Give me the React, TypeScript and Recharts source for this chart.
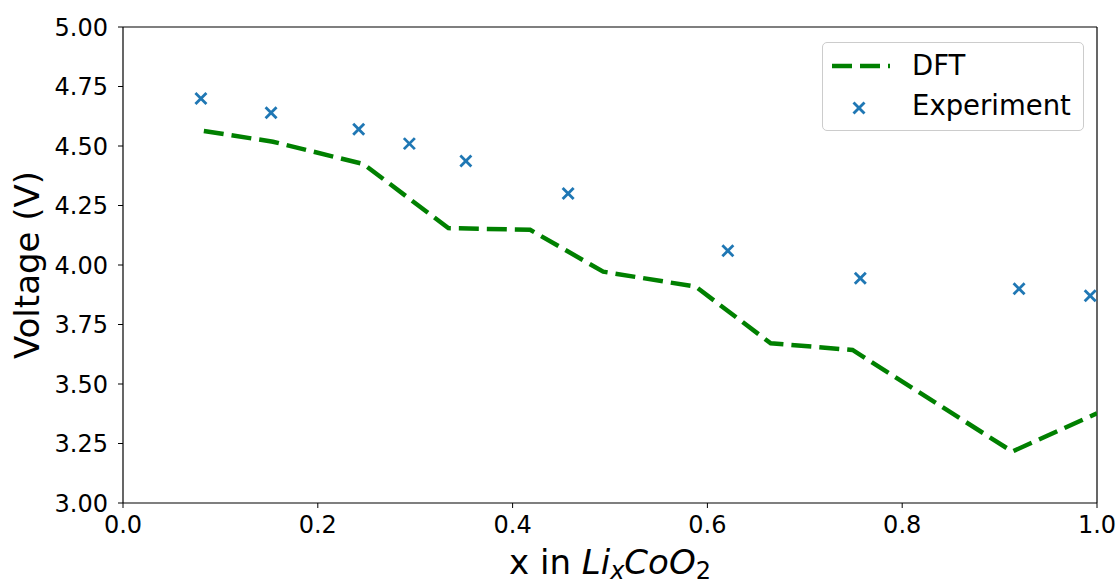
import React from "react"
import {
  ComposedChart,
  Line,
  Scatter,
  XAxis,
  YAxis,
  ReferenceLine,
  Legend,
} from "recharts"

// DFT computed voltage profile (x in LixCoO2, volts)
const dftX = [0.083, 0.154, 0.247, 0.334, 0.418, 0.493, 0.588, 0.665, 0.749, 0.913, 1.0]
const dftV = [4.563, 4.518, 4.424, 4.155, 4.148, 3.972, 3.909, 3.671, 3.643, 3.216, 3.377]

// measured points
const expX = [0.08, 0.152, 0.242, 0.294, 0.352, 0.457, 0.621, 0.757, 0.92, 0.993]
const expV = [4.70, 4.64, 4.57, 4.51, 4.437, 4.30, 4.06, 3.944, 3.90, 3.871]

const xTicks = [0, 0.2, 0.4, 0.6, 0.8, 1.0]
const yTicks = [3.0, 3.25, 3.5, 3.75, 4.0, 4.25, 4.5, 4.75, 5.0]

const dftData = dftX.map((x, i) => ({ x, v: dftV[i] }))
const expData = expX.map((x, i) => ({ x, v: expV[i] }))

const FONT = "DejaVu Sans, sans-serif"
const GREEN = "#008000"
const BLUE = "#1f77b4"

const Cross = (props: any) => {
  const { cx, cy } = props
  if (cx == null || cy == null) return null
  const r = 5.5
  return (
    <g stroke={BLUE} strokeWidth={2.8}>
      <line x1={cx - r} y1={cy - r} x2={cx + r} y2={cy + r} />
      <line x1={cx - r} y1={cy + r} x2={cx + r} y2={cy - r} />
    </g>
  )
}

const LegendBox = () => (
  <div
    style={{
      width: 260,
      height: 87,
      border: "1px solid #cccccc",
      borderRadius: 5,
      background: "rgba(255,255,255,0.8)",
      fontFamily: FONT,
      fontSize: 27.5,
      lineHeight: "normal",
      color: "#000",
      position: "relative",
    }}
  >
    <svg width={80} height={87} style={{ position: "absolute", left: 0, top: 0 }}>
      <line x1={9} y1={23} x2={67} y2={23} stroke={GREEN} strokeWidth={4.5} strokeDasharray="20 8" />
      <Cross cx={36} cy={65} />
    </svg>
    <div style={{ position: "absolute", left: 89, top: 6 }}>DFT</div>
    <div style={{ position: "absolute", left: 89, top: 46 }}>Experiment</div>
  </div>
)

const XLabel = (props: any) => {
  const vb = props.viewBox || {}
  const cx = vb.x + vb.width / 2
  return (
    <text x={cx} y={574} textAnchor="middle" fontFamily={FONT} fontSize={34} fill="#000">
      <tspan>x in </tspan>
      <tspan fontStyle="italic">Li</tspan>
      <tspan fontStyle="italic" fontSize={24} dy={5}>x</tspan>
      <tspan fontStyle="italic" dy={-5}>CoO</tspan>
      <tspan fontSize={24} dy={5}>2</tspan>
    </text>
  )
}

export default function App() {
  return (
    <div style={{ position: "absolute", left: 0, top: 0, width: 1120, height: 581, background: "#fff" }}>
      <ComposedChart
        width={1120}
        height={581}
        margin={{ top: 27, right: 23, left: 0, bottom: 0 }}
      >
        <XAxis
          type="number"
          dataKey="x"
          domain={[0, 1]}
          ticks={xTicks}
          tickFormatter={(v: number) => v.toFixed(1)}
          height={78}
          tickSize={5}
          tickMargin={8}
          axisLine={{ stroke: "#000", strokeWidth: 1.2 }}
          tickLine={{ stroke: "#000" }}
          tick={{ fontFamily: FONT, fontSize: 24, fill: "#000" }}
          allowDataOverflow
          label={<XLabel />}
        />
        <YAxis
          type="number"
          dataKey="v"
          domain={[3, 5]}
          ticks={yTicks}
          tickFormatter={(v: number) => v.toFixed(2)}
          width={123}
          tickSize={5}
          tickMargin={10}
          axisLine={{ stroke: "#000", strokeWidth: 1.2 }}
          tickLine={{ stroke: "#000" }}
          tick={{ fontFamily: FONT, fontSize: 24, fill: "#000" }}
          allowDataOverflow
          label={{
            value: "Voltage (V)",
            angle: -90,
            position: "insideLeft",
            offset: 27,
            style: { fontFamily: FONT, fontSize: 34, fill: "#000", textAnchor: "middle" },
          }}
        />
        <ReferenceLine y={5} stroke="#000" strokeWidth={1.2} ifOverflow="visible" />
        <ReferenceLine x={1} stroke="#000" strokeWidth={1.2} ifOverflow="visible" />
        <Line
          data={dftData}
          dataKey="v"
          type="linear"
          stroke={GREEN}
          strokeWidth={4.5}
          strokeDasharray="20 8"
          dot={false}
          activeDot={false}
          isAnimationActive={false}
        />
        <Scatter
          data={expData}
          dataKey="v"
          shape={<Cross />}
          isAnimationActive={false}
        />
        <Legend
          layout="horizontal"
          verticalAlign="middle"
          align="center"
          content={() => <LegendBox />}
          wrapperStyle={{ position: "absolute", left: 822, top: 42, width: 262, height: 89 }}
        />
      </ComposedChart>
    </div>
  )
}
